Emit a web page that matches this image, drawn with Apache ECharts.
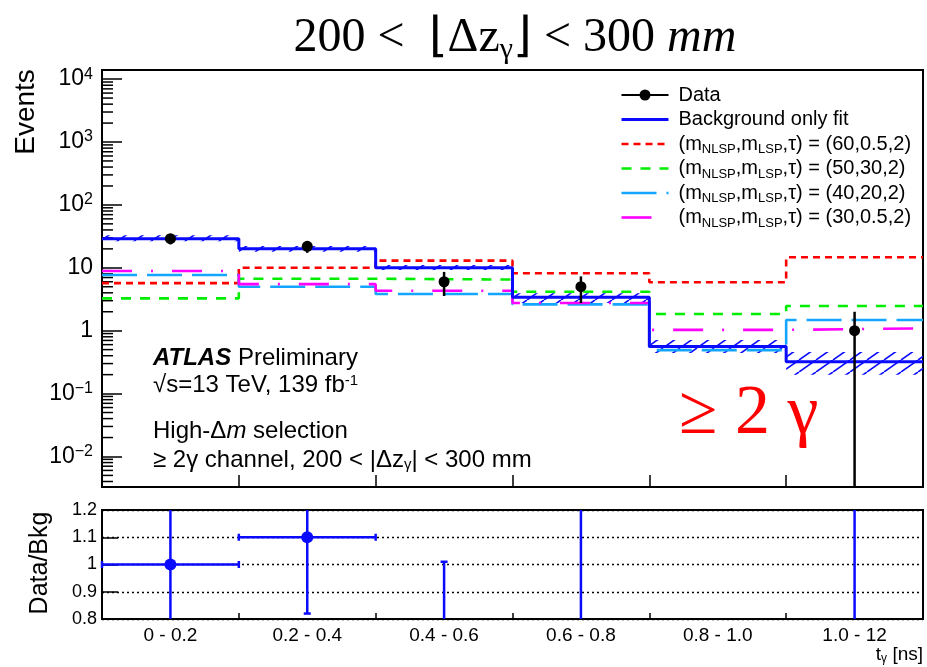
<!DOCTYPE html>
<html><head><meta charset="utf-8">
<script src="https://cdn.jsdelivr.net/npm/echarts@6/dist/echarts.min.js"></script>
<style>html,body{margin:0;padding:0;background:#fff}#c{width:927px;height:667px}</style>
</head><body><div id="c"></div>
<script>
// ---------------- data ----------------
const binLabels = ['0 - 0.2', '0.2 - 0.4', '0.4 - 0.6', '0.6 - 0.8', '0.8 - 1.0', '1.0 - 12'];
const bkgFit  = [29, 20, 10, 3.4, 0.56, 0.32];
const bkgLow  = [26.5, 18, 9.2, 2.75, 0.44, 0.2];
const bkgHigh = [33, 22.2, 11.1, 3.95, 0.71, 0.46];
const dataCounts = [29, 22, 6, 5, null, 1];
const dataLow    = [23.6, 17.3, 3.56, 2.76, null, 0];
const dataHigh   = [34.4, 26.7, 8.6, 7.3, null, 2.0];
const sig60_05_2 = [5.7, 10.0, 13.0, 8.2, 5.9, 14.7];
const sig50_30_2 = [3.27, 6.7, 6.5, 4.17, 1.84, 2.47];
const sig40_20_2 = [7.7, 5.0, 3.83, 2.62, 0.49, 1.48];
const sig30_05_2 = [8.9, 5.5, 4.32, 2.75, 1.03, 1.09];
const ratioVals = [1.0, 1.10, 0.6, 1.47, null, 3.1];
const ratioLow  = [0.7, 0.82, 0.35, 0.6, null, 0];
const ratioHigh = [1.3, 1.5, 1.01, 2.3, null, 6.3];
const yTickExp = [-2, -1, 0, 1, 2, 3, 4];
const yTickLabels = ['{b|10}{s|\u22122}', '{b|10}{s|\u22121}', '{b|1}', '{b|10}', '{b|10}{s|2}', '{b|10}{s|3}', '{b|10}{s|4}'];
const ratioTicks = [0.8, 0.9, 1.0, 1.1, 1.2];
const ratioTickLabels = ['0.8', '0.9', '1', '1.1', '1.2'];
const minorMantissa = [2, 3, 4, 5, 6, 7, 8, 9];
const minorDecades = [-3, -2, -1, 0, 1, 2, 3, 4];
const sigNames = ['(60,0.5,2)', '(50,30,2)', '(40,20,2)', '(30,0.5,2)'];

// ---------------- helpers ----------------
const SANS = 'Liberation Sans, Arial, Helvetica, sans-serif';
const SERIF = 'Liberation Serif, Times New Roman, serif';
const BLUE = '#0a0aff';

function stepData(vals) {
  const d = vals.map((v, i) => [i, v]);
  d.push([vals.length, vals[vals.length - 1]]);
  return d;
}
function makeHatch() {
  const w = 17, h = 12;
  const c = document.createElement('canvas'); c.width = w; c.height = h;
  const g = c.getContext('2d');
  g.strokeStyle = BLUE; g.lineWidth = 1.6;
  for (const dx of [-w, 0, w]) { g.beginPath(); g.moveTo(dx, h); g.lineTo(dx + w, 0); g.stroke(); }
  return c;
}
const hatch = makeHatch();

const minorVals = [];
minorDecades.forEach(e => minorMantissa.forEach(m => minorVals.push([0, m * Math.pow(10, e)])));

const bandData = bkgFit.map((v, i) => [i, bkgLow[i], bkgHigh[i]]);
const pointData = [];
dataCounts.forEach((v, i) => { if (v != null) pointData.push([i, v, dataLow[i], dataHigh[i]]); });
const ratioData = [];
ratioVals.forEach((v, i) => { if (v != null) ratioData.push([i, v, ratioLow[i], ratioHigh[i]]); });

const chart = echarts.init(document.getElementById('c'));

function clampY(cs, y) { return Math.max(cs.y, Math.min(cs.y + cs.height, y)); }

const option = {
  animation: false,
  backgroundColor: '#fff',
  grid: [
    { left: 102, top: 70, width: 821, height: 417, show: true, borderColor: '#000', borderWidth: 2, backgroundColor: 'transparent' },
    { left: 102, top: 510, width: 821, height: 109, show: true, borderColor: '#000', borderWidth: 2, backgroundColor: 'transparent' }
  ],
  xAxis: [
    { type: 'value', gridIndex: 0, min: 0, max: 6, interval: 1,
      axisLine: { show: true, lineStyle: { color: '#000', width: 2 } },
      axisTick: { show: true, inside: true, length: 12, lineStyle: { color: '#000', width: 1.5 } },
      axisLabel: { show: false }, splitLine: { show: false } },
    { type: 'value', gridIndex: 1, min: 0, max: 6, interval: 1,
      axisLine: { show: true, lineStyle: { color: '#000', width: 2 } },
      axisTick: { show: true, inside: true, length: 6, lineStyle: { color: '#000', width: 1.5 } },
      axisLabel: { show: false }, splitLine: { show: false } },
    { type: 'category', gridIndex: 1, data: binLabels, position: 'bottom',
      axisLine: { show: false }, axisTick: { show: false }, splitLine: { show: false },
      axisLabel: { color: '#000', fontSize: 19, fontFamily: SANS, margin: 7 } }
  ],
  yAxis: [
    { type: 'log', gridIndex: 0, logBase: 10, min: 0.00327, max: 13970,
      axisLine: { show: true, lineStyle: { color: '#000', width: 2 } },
      axisTick: { show: true, inside: true, length: 20, lineStyle: { color: '#000', width: 1.5 } },
      splitLine: { show: false },
      axisLabel: { margin: 9, color: '#000',
        formatter: function (v) {
          const l = Math.log10(v), e = Math.round(l);
          if (Math.abs(l - e) > 1e-6) return '';
          const k = yTickExp.indexOf(e);
          return k < 0 ? '' : yTickLabels[k];
        },
        rich: {
          b: { fontSize: 23, fontFamily: SANS, color: '#000', lineHeight: 26 },
          s: { fontSize: 16, fontFamily: SANS, color: '#000', lineHeight: 14, verticalAlign: 'top' }
        } } },
    { type: 'value', gridIndex: 1, min: 0.8, max: 1.2, interval: 0.1,
      axisLine: { show: true, lineStyle: { color: '#000', width: 2 } },
      axisTick: { show: true, inside: true, length: 16, lineStyle: { color: '#000', width: 1.5 } },
      splitLine: { show: true, lineStyle: { color: '#000', width: 1.3, type: [2, 3] } },
      axisLabel: { margin: 5, color: '#000', fontSize: 18, fontFamily: SANS,
        formatter: function (v) {
          const k = ratioTicks.findIndex(t => Math.abs(t - v) < 1e-6);
          return k < 0 ? '' : ratioTickLabels[k];
        } } }
  ],
  legend: {
    orient: 'vertical', left: 615, top: 78, itemWidth: 47, itemHeight: 14, itemGap: 0.5,
    selectedMode: false,
    lineStyle: { width: 'inherit' },
    data: [
      { name: 'Data', icon: 'path://M0,6.5H47V8.5H0Z M18,7.5A5.5,5.5,0,0,1,29,7.5A5.5,5.5,0,0,1,18,7.5Z', itemStyle: { color: '#000' } },
      { name: 'Background only fit', itemStyle: { opacity: 0 } },
      ...sigNames.map(n => ({ name: n, itemStyle: { opacity: 0 } }))
    ],
    formatter: function (name) {
      if (sigNames.indexOf(name) >= 0) return '(m{s|NLSP},m{s|LSP},\u03c4) = ' + name;
      return name;
    },
    textStyle: { color: '#000', fontSize: 20, fontFamily: SANS, lineHeight: 24, padding: [0, 0, 0, 5],
      rich: { s: { fontSize: 13, fontFamily: SANS, color: '#000', lineHeight: 10, verticalAlign: 'bottom' } } }
  },
  graphic: [
    { type: 'text', x: 515, y: 38, style: { text: '{n|200 <  \u230a\u0394z}{sub|\u03b3}{n|\u230b < 300 }{i|mm}', textAlign: 'center', textVerticalAlign: 'middle',
      rich: { n: { fontFamily: SERIF, fontSize: 48, fill: '#000', lineHeight: 54 },
              sub: { fontFamily: SERIF, fontSize: 30, fill: '#000', lineHeight: 26, verticalAlign: 'bottom' },
              i: { fontFamily: SERIF, fontSize: 48, fontStyle: 'italic', fill: '#000', lineHeight: 54 } } } },
    { type: 'text', x: 26, y: 112, rotation: Math.PI / 2, style: { text: 'Events', font: '28px ' + SANS, fill: '#000', textAlign: 'center', textVerticalAlign: 'middle' } },
    { type: 'text', x: 40, y: 563, rotation: Math.PI / 2, style: { text: 'Data/Bkg', font: '25px ' + SANS, fill: '#000', textAlign: 'center', textVerticalAlign: 'middle' } },
    { type: 'text', x: 923, y: 655, style: { text: 't{s|\u03b3} [ns]', font: '19px ' + SANS, fill: '#000', textAlign: 'right', textVerticalAlign: 'middle',
      rich: { s: { fontFamily: SANS, fontSize: 12, fill: '#000', lineHeight: 10, verticalAlign: 'bottom' } } } },
    { type: 'text', x: 153, y: 358, style: { text: '{b|ATLAS} Preliminary', font: '24px ' + SANS, fill: '#000', textVerticalAlign: 'middle',
      rich: { b: { fontFamily: SANS, fontSize: 24, fontWeight: 'bold', fontStyle: 'italic', fill: '#000' } } } },
    { type: 'text', x: 153, y: 385, style: { text: '\u221as=13 TeV, 139 fb{s|-1}', font: '24px ' + SANS, fill: '#000', textVerticalAlign: 'middle',
      rich: { s: { fontFamily: SANS, fontSize: 15, fill: '#000', lineHeight: 14, verticalAlign: 'top' } } } },
    { type: 'text', x: 153, y: 431, style: { text: 'High-\u0394{i|m} selection', font: '24px ' + SANS, fill: '#000', textVerticalAlign: 'middle',
      rich: { i: { fontFamily: SANS, fontSize: 24, fontStyle: 'italic', fill: '#000' } } } },
    { type: 'text', x: 153, y: 460, style: { text: '\u2265 2\u03b3 channel, 200 < |\u0394z{s|\u03b3}| < 300 mm', font: '24px ' + SANS, fill: '#000', textVerticalAlign: 'middle',
      rich: { s: { fontFamily: SANS, fontSize: 15, fill: '#000', lineHeight: 12, verticalAlign: 'bottom' } } } },
    { type: 'text', x: 679, y: 415, style: { text: '\u2265 2 \u03b3', font: '70px ' + SERIF, fill: '#ff0000', textVerticalAlign: 'middle' } }
  ],
  series: [
    { type: 'custom', name: 'bkgBand', xAxisIndex: 0, yAxisIndex: 0, z: 2, silent: true,
      data: bandData, encode: { x: 0, y: [1, 2] },
      renderItem: function (params, api) {
        const i = api.value(0);
        const p1 = api.coord([i, api.value(2)]);
        const p2 = api.coord([i + 1, api.value(1)]);
        return { type: 'rect', shape: { x: p1[0], y: p1[1], width: p2[0] - p1[0], height: p2[1] - p1[1] },
          style: { fill: { type: 'pattern', image: hatch, repeat: 'repeat' }, stroke: null } };
      } },
    { type: 'custom', name: 'minorTicks', xAxisIndex: 0, yAxisIndex: 0, z: 1, silent: true,
      data: minorVals, encode: { x: 0, y: 1 },
      renderItem: function (params, api) {
        const cs = params.coordSys;
        const y = api.coord([0, api.value(1)])[1];
        if (y < cs.y || y > cs.y + cs.height) return null;
        return { type: 'line', shape: { x1: cs.x, y1: y, x2: cs.x + 11, y2: y }, style: { stroke: '#000', lineWidth: 1.5 } };
      } },
    { type: 'line', name: sigNames[0], xAxisIndex: 0, yAxisIndex: 0, step: 'end', symbol: 'none', z: 3,
      data: stepData(sig60_05_2), itemStyle: { color: '#ff0000' }, lineStyle: { color: '#ff0000', width: 2.6, type: [7, 5] } },
    { type: 'line', name: sigNames[1], xAxisIndex: 0, yAxisIndex: 0, step: 'end', symbol: 'none', z: 3,
      data: stepData(sig50_30_2), itemStyle: { color: '#00ee00' }, lineStyle: { color: '#00ee00', width: 2.6, type: [10, 9] } },
    { type: 'line', name: sigNames[2], xAxisIndex: 0, yAxisIndex: 0, step: 'end', symbol: 'none', z: 3,
      data: stepData(sig40_20_2), itemStyle: { color: '#14a5ff' }, lineStyle: { color: '#14a5ff', width: 2.6, type: [35, 10] } },
    { type: 'line', name: sigNames[3], xAxisIndex: 0, yAxisIndex: 0, step: 'end', symbol: 'none', z: 3,
      data: stepData(sig30_05_2), itemStyle: { color: '#ff00ff' }, lineStyle: { color: '#ff00ff', width: 2.6, type: [30, 19, 2, 19] } },
    { type: 'line', name: 'Background only fit', xAxisIndex: 0, yAxisIndex: 0, step: 'end', symbol: 'none', z: 4,
      data: stepData(bkgFit), itemStyle: { color: BLUE }, lineStyle: { color: BLUE, width: 3 } },
    { type: 'custom', name: 'Data', xAxisIndex: 0, yAxisIndex: 0, z: 6,
      itemStyle: { color: '#000' },
      data: pointData, encode: { x: 0, y: [1, 2, 3] },
      renderItem: function (params, api) {
        const cs = params.coordSys;
        const i = api.value(0), v = api.value(1), lo = api.value(2), hi = api.value(3);
        const c = api.coord([i + 0.5, v]);
        const yLo = lo > 0 ? clampY(cs, api.coord([i + 0.5, lo])[1]) : cs.y + cs.height;
        const yHi = clampY(cs, api.coord([i + 0.5, hi])[1]);
        return { type: 'group', children: [
          { type: 'line', shape: { x1: c[0], y1: yLo, x2: c[0], y2: yHi }, style: { stroke: '#000', lineWidth: 2.5 } },
          { type: 'circle', shape: { cx: c[0], cy: c[1], r: 5.5 }, style: { fill: '#000' } }
        ] };
      } },
    { type: 'custom', name: 'ratio', xAxisIndex: 1, yAxisIndex: 1, z: 6,
      data: ratioData, encode: { x: 0, y: [1, 2, 3] },
      renderItem: function (params, api) {
        const cs = params.coordSys;
        const top = cs.y, bot = cs.y + cs.height;
        const i = api.value(0), v = api.value(1), lo = api.value(2), hi = api.value(3);
        const xc = api.coord([i + 0.5, 1])[0];
        const yV = api.coord([0, v])[1];
        const yLo = api.coord([0, lo])[1], yHi = api.coord([0, hi])[1];
        const st = { stroke: BLUE, lineWidth: 2.5 };
        const ch = [{ type: 'line', shape: { x1: xc, y1: clampY(cs, yLo), x2: xc, y2: clampY(cs, yHi) }, style: st }];
        if (yLo >= top && yLo <= bot) ch.push({ type: 'line', shape: { x1: xc - 3.5, y1: yLo, x2: xc + 3.5, y2: yLo }, style: st });
        if (yHi >= top && yHi <= bot) ch.push({ type: 'line', shape: { x1: xc - 3.5, y1: yHi, x2: xc + 3.5, y2: yHi }, style: st });
        if (yV >= top && yV <= bot) {
          const xl = api.coord([i, 1])[0], xr = api.coord([i + 1, 1])[0];
          ch.push({ type: 'line', shape: { x1: xl, y1: yV, x2: xr, y2: yV }, style: st });
          ch.push({ type: 'line', shape: { x1: xl, y1: yV - 3.5, x2: xl, y2: yV + 3.5 }, style: st });
          ch.push({ type: 'line', shape: { x1: xr, y1: yV - 3.5, x2: xr, y2: yV + 3.5 }, style: st });
          ch.push({ type: 'circle', shape: { cx: xc, cy: yV, r: 6 }, style: { fill: BLUE } });
        }
        return { type: 'group', children: ch };
      } }
  ]
};
chart.setOption(option);
</script>
</body></html>
